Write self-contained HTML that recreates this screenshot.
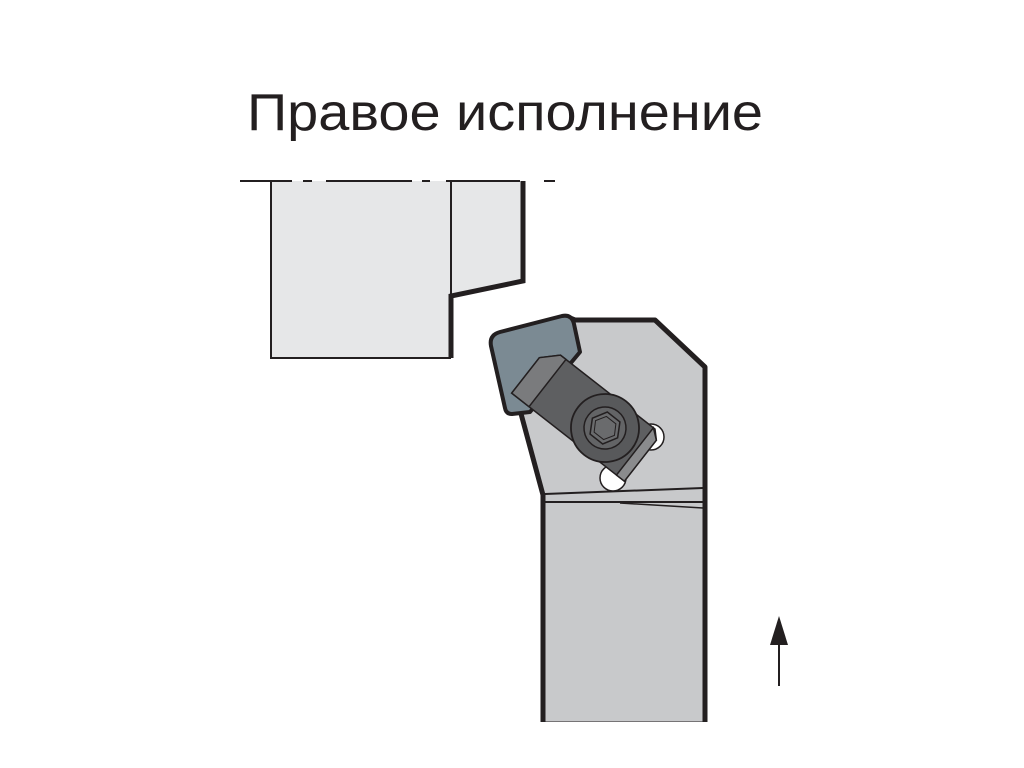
<!DOCTYPE html>
<html><head><meta charset="utf-8"><style>html,body{margin:0;padding:0;background:#fff}svg{display:block}</style></head><body>
<svg width="1024" height="768" viewBox="0 0 1024 768" xmlns="http://www.w3.org/2000/svg">
<text x="247" y="130" font-family="Liberation Sans, sans-serif" font-size="52" fill="#231f20" textLength="516" lengthAdjust="spacingAndGlyphs">Правое исполнение</text>
<!-- workpiece -->
<rect x="271" y="181" width="180" height="177" fill="#e6e7e8"/>
<polygon points="451,181 523,181 523,281 451,296" fill="#e6e7e8"/>
<polyline points="271,181 271,358 451,358" fill="none" stroke="#231f20" stroke-width="2"/>
<line x1="451" y1="181" x2="451" y2="296" stroke="#231f20" stroke-width="2"/>
<polyline points="523,181 523,281 451,296 451,358" fill="none" stroke="#231f20" stroke-width="5"/>
<!-- dashed line -->
<g stroke="#231f20" stroke-width="2">
<line x1="240" y1="181" x2="292" y2="181"/><line x1="303" y1="181" x2="312" y2="181"/>
<line x1="326" y1="181" x2="412" y2="181"/><line x1="422" y1="181" x2="430" y2="181"/>
<line x1="446" y1="181" x2="520" y2="181"/><line x1="544" y1="181" x2="555" y2="181"/>
</g>
<!-- holder -->
<polygon points="575,320 655,320 705,367 705,724 543,724 543,495 520,410 570,318" fill="#c8c9cb" stroke="#231f20" stroke-width="5" stroke-linejoin="round"/>
<rect x="539" y="722" width="170" height="10" fill="#fff"/>
<line x1="545" y1="494" x2="703" y2="488" stroke="#231f20" stroke-width="2"/>
<line x1="545" y1="502" x2="703" y2="502" stroke="#231f20" stroke-width="2"/>
<line x1="620" y1="503" x2="703" y2="508" stroke="#231f20" stroke-width="1.5"/>
<!-- insert -->
<path d="M500,332 L562,316 Q572,314 574,324 L580,352 L530,412 L512,414 Q506,414 505,408 L491,346 Q489,335 500,332 Z" fill="#7b8a93" stroke="#231f20" stroke-width="4" stroke-linejoin="round"/>
<!-- small circles -->
<circle cx="651" cy="437" r="13" fill="#fff" stroke="#231f20" stroke-width="1.5"/>
<circle cx="613" cy="478" r="13" fill="#fff" stroke="#231f20" stroke-width="1.5"/>
<!-- clamp -->
<g transform="translate(605,428) rotate(38)">
<polygon points="-80,-30 40,-30 48,-22 48,30 -95,30 -95,-15" fill="#5e5f61" stroke="#231f20" stroke-width="1.5"/>
<polygon points="-95,-15 -80,-30 -73,-30 -73,30 -95,30" fill="#7a7b7d" stroke="#231f20" stroke-width="1.5"/>
<polygon points="38,-30 48,-22 48,30 38,30" fill="#8a8b8d" stroke="#231f20" stroke-width="1.5"/>
<circle cx="0" cy="0" r="34" fill="#58595b" stroke="#231f20" stroke-width="1.8"/>
<circle cx="0" cy="0" r="21" fill="#636466" stroke="#231f20" stroke-width="1.5"/>
<polygon points="16,0 8,14 -8,14 -16,0 -8,-14 8,-14" fill="#6a6b6d" stroke="#231f20" stroke-width="1.5"/>
<polygon points="12,0 6,10 -6,10 -12,0 -6,-10 6,-10" fill="none" stroke="#231f20" stroke-width="1"/>
</g>
<!-- arrow -->
<line x1="779" y1="640" x2="779" y2="686" stroke="#231f20" stroke-width="2"/>
<polygon points="779,616 770,645 788,645" fill="#231f20"/>
</svg>
</body></html>
